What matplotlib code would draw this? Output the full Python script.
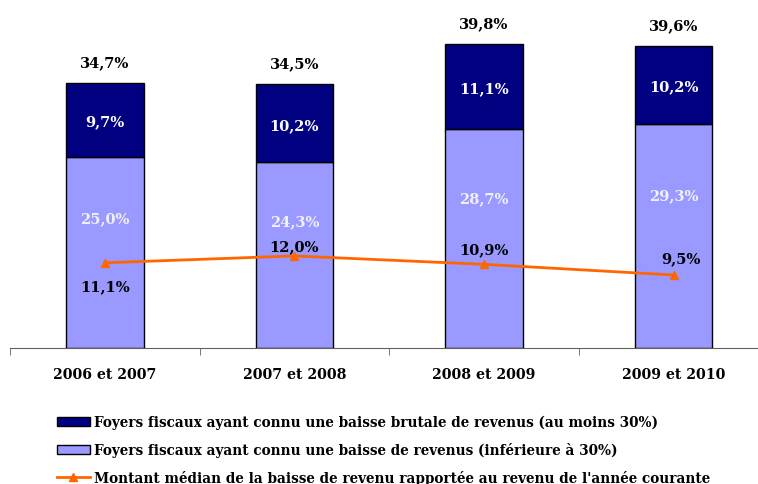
import matplotlib.pyplot as plt
from matplotlib.patches import Patch
from matplotlib.lines import Line2D

plt.rcParams["font.family"] = "DejaVu Serif"
plt.rcParams["font.weight"] = "bold"

periods = ["2006 et 2007", "2007 et 2008", "2008 et 2009", "2009 et 2010"]
baisse_moderee = [25.0, 24.3, 28.7, 29.3]
baisse_brutale = [9.7, 10.2, 11.1, 10.2]
totals = [34.7, 34.5, 39.8, 39.6]
median_baisse = [11.1, 12.0, 10.9, 9.5]

light = "#9999FF"
dark = "#000080"
orange = "#FF6600"


def fr(v):
    return f"{v:.1f}%".replace(".", ",")


fig = plt.figure(figsize=(7.58, 4.85), dpi=100)
ax = fig.add_axes([10 / 758, 1 - 348.5 / 485, 747 / 758, 348.5 / 485])

x = list(range(len(periods)))
w = 0.41
ax.bar(x, baisse_moderee, w, color=light, edgecolor="black", linewidth=1)
ax.bar(x, baisse_brutale, w, bottom=baisse_moderee, color=dark,
       edgecolor="black", linewidth=1)
ax.plot(x, median_baisse, color=orange, lw=2, marker="^", ms=6)

fs = 10.5
for i in x:
    ax.text(i, totals[i] + 2.7, fr(totals[i]), ha="center", va="center",
            fontsize=fs)
    ax.text(i, baisse_moderee[i] + baisse_brutale[i] / 2 - 0.2,
            fr(baisse_brutale[i]), ha="center", va="center", fontsize=fs,
            color="white")
    ax.text(i, baisse_moderee[i] * 0.68, fr(baisse_moderee[i]), ha="center",
            va="center", fontsize=fs, color="#F0F0FF")

# median labels
offsets = [(0, -3.0), (0, 1.3), (0, 2.0), (0.04, 2.2)]
for i, (dx, dy) in zip(x, offsets):
    ax.text(i + dx, median_baisse[i] + dy, fr(median_baisse[i]), ha="center",
            va="center", fontsize=fs)

ax.set_yticks([])
for s in ["left", "right", "top"]:
    ax.spines[s].set_visible(False)
ax.spines["bottom"].set_color("#606060")
ax.set_xticks(x)
ax.set_xticklabels(periods, fontsize=10.2)
ax.tick_params(axis="x", which="major", length=0, pad=14)
ax.set_xticks([-0.5, 0.5, 1.5, 2.5, 3.5], minor=True)
ax.tick_params(axis="x", which="minor", length=5, color="#606060")
ax.set_xlim(-0.5, 3.44)
ax.set_ylim(0, 348.5 / 7.63)

handles = [
    Patch(facecolor=dark, edgecolor="black"),
    Patch(facecolor=light, edgecolor="black"),
    Line2D([], [], color=orange, lw=2, marker="^", ms=6),
]
labels = [
    "Foyers fiscaux ayant connu une baisse brutale de revenus (au moins 30%)",
    "Foyers fiscaux ayant connu une baisse de revenus (inférieure à 30%)",
    "Montant médian de la baisse de revenu rapportée au revenu de l'année courante",
]
fig.legend(handles, labels, loc="upper left",
           bbox_to_anchor=(50 / 758, 1 - 409 / 485),
           frameon=False, fontsize=9.8, handlelength=2.45, handleheight=0.65,
           labelspacing=0.95, handletextpad=0.3, borderpad=0)

fig.savefig("out.png", dpi=100)
